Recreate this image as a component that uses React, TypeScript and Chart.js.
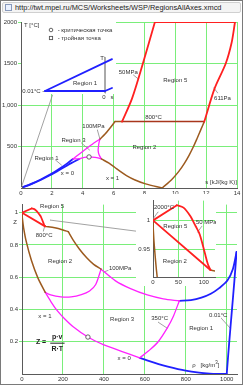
import React, { useEffect, useRef } from 'react';
import { Chart, registerables } from 'chart.js';
Chart.register(...registerables);

type P = [number, number];
type Lbl = { t: string; x: number; y: number; a?: CanvasTextAlign; f?: string; c?: string };

const FONT = '"Liberation Sans", Arial, sans-serif';
const BLUE = '#2020ff';
const RED = '#ff2020';
const MAG = '#ff22ff';
const BROWN = '#9c5a1e';
const R800 = '#a8361c';
const GRID = '#7aee7a';
const AXIS = '#5a5a5a';
const LEAD = '#8a8a8a';
const TXT = '#333333';

// ---------- T-s diagram ----------
const tsXTicks = [0, 2, 4, 6, 8, 10, 12, 14];
const tsXTickLabels = ['0', '2', '4', '6', '8', '10', '12', '14'];
const tsYTicks = [500, 1000, 1500, 2000];
const tsYTickLabels = ['500', '1,000', '1500', '2000'];

const tsSatLiquid: P[] = [[0, 0.01], [0.704, 50], [1.307, 100], [1.842, 150], [2.331, 200], [2.793, 250], [3.255, 300], [3.778, 350]];
const tsIsobar100L: P[] = [[-0.009, 0.01], [0.66, 50], [1.25, 100], [1.76, 150], [2.22, 200], [2.64, 250], [3.02, 300], [3.37, 350]];
const tsIsotherm350: P[] = [[3.37, 350], [3.778, 350]];
const tsDome: P[] = [[3.778, 350], [3.916, 360], [4.111, 370], [4.41, 373.95], [4.8, 370], [5.054, 360], [5.211, 350]];
const tsIsobar100R3: P[] = [[3.37, 350], [3.85, 420], [4.35, 490], [4.75, 545], [5.12, 590]];
const tsB23: P[] = [[5.211, 350], [5.06, 400], [5.0, 450], [5.02, 500], [5.06, 550], [5.12, 590]];
const tsSatVapor: P[] = [[5.211, 350], [5.704, 300], [6.073, 250], [6.431, 200], [6.837, 150], [7.354, 100], [8.075, 50], [9.155, 0.01]];
const ts611R2: P[] = [[9.155, 0.01], [9.76, 100], [10.23, 200], [10.6, 300], [10.91, 400], [11.18, 500], [11.42, 600], [11.65, 700], [11.88, 800]];
const tsIsobar100R2: P[] = [[5.12, 590], [5.45, 650], [5.8, 730], [6.09, 800]];
const ts800R2: P[] = [[6.09, 800], [6.55, 800]];
const ts800R5: P[] = [[6.55, 800], [11.88, 800]];
const ts50R5: P[] = [[6.55, 800], [7.2, 1080], [7.9, 1500], [8.68, 2000]];
const ts2000R5: P[] = [[8.68, 2000], [13.87, 2000]];
const ts611R5: P[] = [[11.88, 800], [12.55, 1200], [13.27, 1500], [13.65, 1750], [13.87, 2000]];
const tsCritical: P[] = [[4.41, 373.95]];
const tsTriple: P[] = [[0, 0.01]];
const tsLeaders: P[][] = [
  [[7.29, 1361], [7.61, 1313]],
  [[12.75, 1145], [12.5, 1205]],
  [[4.95, 700], [5.1, 600]],
  [[3.92, 542], [4.44, 458]],
  [[2.24, 337], [2.62, 277]],
  [[2.04, 1120], [0.03, 12]],
];
const tsLabels: Lbl[] = [
  { t: 'Region 5', x: 10.0, y: 1301 },
  { t: '50MPa', x: 6.95, y: 1398 },
  { t: '611Pa', x: 13.06, y: 1084 },
  { t: '800°C', x: 8.59, y: 855 },
  { t: '100MPa', x: 4.7, y: 747 },
  { t: 'Region 3', x: 3.4, y: 578 },
  { t: 'Region 2', x: 8.0, y: 494 },
  { t: 'Region 1', x: 1.65, y: 361 },
  { t: 'x = 0', x: 3.01, y: 181 },
  { t: 'x = 1', x: 5.93, y: 120 },
  { t: 's [kJ/(kg K)]', x: 14, y: 72, a: 'right' },
];

// ---------- T-s inset (near triple point) ----------
const inXRange: P = [-0.01245, 0.00165];
const inYRange: P = [-1.09, 7.51];
const inIsotherm: P[] = [[-0.009, 0.01], [0, 0.01]];
const inIsobar: P[] = [[-0.009, 0.01], [0.00105, 3.2]];
const inSat: P[] = [[0, 0.01], [0.00105, 0.31]];
const inAxis: P[] = [[0, -0.2], [0, 3.4]];
const inLabels: Lbl[] = [
  { t: 'T [°C]', x: -0.01215, y: 6.61, a: 'left' },
  { t: '- критическая точка', x: -0.0071, y: 6.11, a: 'left' },
  { t: '- тройная точка', x: -0.0071, y: 5.31, a: 'left' },
  { t: 'T', x: -0.00045, y: 3.31 },
  { t: '0', x: -0.00015, y: -0.59 },
  { t: 's', x: 0.00105, y: -0.59 },
  { t: '0.01°C -', x: -0.0091, y: 0.01, a: 'right' },
  { t: 'Region 1', x: -0.003, y: 0.81 },
];

// ---------- Z-rho diagram ----------
const zXTicks = [0, 200, 400, 600, 800, 1000];
const zXTickLabels = ['0', '200', '400', '600', '800', '1000'];
const zYTicks = [0.2, 0.4, 0.6, 0.8, 1.0];
const zYTickLabels = ['0.2', '0.4', '0.6', '0.8', '1'];

const zSatVapor: P[] = [[0, 1], [0.598, 0.984], [2.548, 0.957], [7.86, 0.906], [19.97, 0.825], [46.2, 0.703], [77.5, 0.596], [113.6, 0.506]];
const zDomeR3: P[] = [[113.6, 0.506], [144.9, 0.441], [171, 0.394], [203, 0.349], [250, 0.293], [322, 0.229], [400, 0.18], [450.5, 0.157], [528, 0.121], [574.7, 0.1]];
const zSatLiquid: P[] = [[574.7, 0.1], [610.7, 0.0844], [667, 0.0618], [712.1, 0.0456], [799.1, 0.0206], [864.7, 0.0082], [917, 0.0024], [958.4, 0.0005], [999.8, 0]];
const zIso001: P[] = [[999.8, 0], [1012, 0.196], [1024.6, 0.387], [1037, 0.574], [1048, 0.757]];
const zIsobar100R1: P[] = [[1048, 0.757], [1030, 0.651], [1003, 0.579], [963, 0.532], [922, 0.497], [876, 0.473], [825, 0.458], [768, 0.453]];
const zIso350: P[] = [[574.7, 0.1], [620, 0.145], [665, 0.2], [709, 0.284], [740, 0.36], [768, 0.453]];
const zIsobar100R3: P[] = [[768, 0.453], [690, 0.466], [612, 0.49], [530, 0.529], [455, 0.579], [386, 0.65]];
const zB23: P[] = [[113.6, 0.506], [140, 0.49], [190, 0.478], [240, 0.478], [290, 0.492], [330, 0.515], [360, 0.555], [386, 0.65]];
const zIsobar100R2: P[] = [[386, 0.65], [350, 0.68], [316, 0.72], [280, 0.775], [250, 0.83], [226, 0.882]];
const z800R2: P[] = [[226, 0.882], [200, 0.893], [160, 0.906], [113, 0.915]];
const z800R5: P[] = [[113, 0.915], [0, 1.0]];
const z2000R5: P[] = [[0, 1.0], [47, 1.026]];
const z50R5: P[] = [[47, 1.026], [60, 1.022], [73, 1.008], [84, 0.99], [92, 0.976], [102, 0.944], [108, 0.925], [113, 0.915]];
const zCritical: P[] = [[322, 0.229]];
const zLeaders: P[][] = [
  [[137, 0.954], [590, 0.88]],
  [[104, 0.885], [110, 0.912]],
  [[420, 0.642], [401, 0.633]],
  [[665, 0.321], [709, 0.284]],
  [[973, 0.346], [1017, 0.284]],
];
const zLabels: Lbl[] = [
  { t: 'Region 5', x: 147, y: 1.037 },
  { t: '800°C', x: 108, y: 0.862 },
  { t: 'Z', x: -34, y: 0.94 },
  { t: 'Region 2', x: 186, y: 0.698 },
  { t: '100MPa', x: 479, y: 0.654 },
  { t: 'x = 1', x: 112, y: 0.358 },
  { t: 'Region 3', x: 489, y: 0.34 },
  { t: '350°C', x: 672, y: 0.345 },
  { t: 'Region 1', x: 875, y: 0.284 },
  { t: '0.01°C', x: 958, y: 0.364 },
  { t: 'x = 0', x: 499, y: 0.099 },
];

// ---------- Z-rho inset ----------
const ziXTicks = [0, 50, 100];
const ziXTickLabels = ['0', '50', '100'];
const ziYTicks = [0.95, 1.0];
const ziYTickLabels = ['0.95', '1'];
const ziLeaders: P[][] = [
  [[9.8, 1.0145], [0.5, 1.003]],
  [[96, 0.99], [88, 0.98]],
];
const ziLabels: Lbl[] = [
  { t: '2000°C', x: 21.6, y: 1.0226 },
  { t: 'Region 5', x: 44, y: 0.99 },
  { t: '50 MPa', x: 105, y: 0.996 },
  { t: 'Region 2', x: 43, y: 0.929 },
];

const mk = (pts: P[]) => pts.map(([x, y]) => ({ x, y }));
function line(pts: P[], color: string, w: number, tension = 0.3): any {
  return {
    data: mk(pts), showLine: true, borderColor: color, backgroundColor: color, borderWidth: w,
    pointRadius: 0, pointHoverRadius: 0, tension, fill: false, borderCapStyle: 'round', borderJoinStyle: 'round',
  };
}
function marker(pts: P[], style: string, r: number): any {
  return {
    data: mk(pts), showLine: false, pointStyle: style, pointRadius: r, pointHoverRadius: r,
    borderColor: '#555', backgroundColor: '#ffffff', borderWidth: 0.9,
  };
}
function axis(min: number, max: number, ticks: number[], labels: string[], horizontal: boolean, size: number, pad: number, drawTicks: boolean, display = true): any {
  return {
    type: 'linear', min, max, display,
    afterBuildTicks: (s: any) => { s.ticks = ticks.map((v) => ({ value: v })); },
    afterFit: (s: any) => { if (horizontal) s.height = size; else s.width = size; },
    grid: { color: GRID, lineWidth: 1, drawTicks, tickLength: 3, tickColor: GRID },
    border: { display: true, color: AXIS, width: 1 },
    ticks: {
      font: { size: 6, family: FONT }, color: TXT, padding: pad, autoSkip: false, maxRotation: 0,
      callback: (_v: any, i: number) => labels[i] ?? '',
    },
  };
}
function textPlugin(id: string, labels: Lbl[], bgHeight: number, extra?: (ctx: CanvasRenderingContext2D, px: (v: number) => number, py: (v: number) => number) => void): any {
  return {
    id,
    beforeDraw(chart: any) {
      if (bgHeight > 0) {
        const ctx = chart.ctx;
        ctx.save();
        ctx.fillStyle = '#ffffff';
        ctx.fillRect(0, 0, chart.width, bgHeight);
        ctx.restore();
      }
    },
    afterDatasetsDraw(chart: any) {
      const ctx: CanvasRenderingContext2D = chart.ctx;
      const xs = chart.scales.x, ys = chart.scales.y;
      const px = (v: number) => xs.getPixelForValue(v);
      const py = (v: number) => ys.getPixelForValue(v);
      ctx.save();
      for (const l of labels) {
        ctx.font = l.f || `6px ${FONT}`;
        ctx.fillStyle = l.c || TXT;
        ctx.textAlign = l.a || 'center';
        ctx.textBaseline = 'middle';
        ctx.fillText(l.t, px(l.x), py(l.y));
      }
      if (extra) extra(ctx, px, py);
      ctx.restore();
    },
  };
}
const baseOpts = (padding: any, scales: any) => ({
  responsive: false, animation: false as const, devicePixelRatio: 1,
  layout: { padding },
  plugins: { legend: { display: false }, tooltip: { enabled: false } },
  events: [] as any[],
  scales,
});

export default function App() {
  const rA = useRef<HTMLCanvasElement>(null);
  const rB = useRef<HTMLCanvasElement>(null);
  const rC = useRef<HTMLCanvasElement>(null);
  const rD = useRef<HTMLCanvasElement>(null);

  useEffect(() => {
    const charts: Chart[] = [];
    // Top T-s chart
    charts.push(new Chart(rA.current!, {
      type: 'scatter',
      data: {
        datasets: [
          marker(tsCritical, 'circle', 2.2),
          marker(tsTriple, 'rect', 2),
          line(ts2000R5, RED, 1.8, 0),
          line(ts50R5, RED, 1.8),
          line(ts611R5, RED, 1.8),
          line(ts800R5, R800, 1.5, 0),
          line(ts800R2, BROWN, 1.5, 0),
          line(tsIsobar100R2, BROWN, 1.5),
          line(ts611R2, BROWN, 1.5),
          line(tsSatVapor, BROWN, 1.5),
          line(tsIsotherm350, MAG, 1.3, 0),
          line(tsDome, MAG, 1.3),
          line(tsIsobar100R3, MAG, 1.3, 0.2),
          line(tsB23, MAG, 1.3),
          line(tsSatLiquid, BLUE, 1.8),
          line(tsIsobar100L, BLUE, 1.8),
          ...tsLeaders.map((l) => line(l, LEAD, 0.8, 0)),
        ],
      },
      options: baseOpts({ left: 0, right: 6, top: 8, bottom: 0 }, {
        x: axis(0, 14, tsXTicks, tsXTickLabels, true, 12, 2, false),
        y: axis(0, 2000, tsYTicks, tsYTickLabels, false, 21, 1, true),
      }) as any,
      plugins: [textPlugin('tsText', tsLabels, 0)],
    }));

    // Bottom Z-rho chart
    charts.push(new Chart(rB.current!, {
      type: 'scatter',
      data: {
        datasets: [
          marker(zCritical, 'circle', 2.2),
          line(z2000R5, RED, 1.8, 0),
          line(z50R5, RED, 1.8),
          line(z800R5, RED, 1.8, 0),
          line(z800R2, BROWN, 1.5),
          line(zIsobar100R2, BROWN, 1.5),
          line(zSatVapor, BROWN, 1.5),
          line(zDomeR3, MAG, 1.3),
          line(zIso350, MAG, 1.3),
          line(zIsobar100R3, MAG, 1.3),
          line(zB23, MAG, 1.3),
          line(zSatLiquid, BLUE, 1.8),
          line(zIso001, BLUE, 1.8),
          line(zIsobar100R1, BLUE, 1.8),
          ...zLeaders.map((l) => line(l, LEAD, 0.8, 0)),
        ],
      },
      options: baseOpts({ left: 0, right: 6, top: 4, bottom: 0 }, {
        x: axis(0, 1050, zXTicks, zXTickLabels, true, 11, 1.5, false),
        y: axis(0, 1.05, zYTicks, zYTickLabels, false, 22, 1, true),
      }) as any,
      plugins: [textPlugin('zText', zLabels, 0, (ctx, px, py) => {
        // formula Z = p·v / R·T
        ctx.font = `bold 7px ${FONT}`;
        ctx.fillStyle = '#222';
        ctx.textAlign = 'center';
        ctx.fillText('Z =', px(93), py(0.198));
        ctx.fillText('p·v', px(172), py(0.229));
        ctx.fillText('R·T', px(172), py(0.153));
        ctx.strokeStyle = '#222';
        ctx.lineWidth = 1;
        ctx.beginPath();
        ctx.moveTo(px(138), py(0.191));
        ctx.lineTo(px(208), py(0.191));
        ctx.stroke();
        // rho label with superscript
        ctx.font = `6px ${FONT}`;
        ctx.fillStyle = TXT;
        ctx.textAlign = 'left';
        let x = px(831);
        const y = py(0.056);
        const s1 = 'ρ   [kg/m';
        ctx.fillText(s1, x, y);
        x += ctx.measureText(s1).width;
        ctx.font = `4.5px ${FONT}`;
        ctx.fillText('3', x, y - 2);
        x += ctx.measureText('3').width;
        ctx.font = `6px ${FONT}`;
        ctx.fillText(']', x, y);
      })],
    }));

    // Top inset
    charts.push(new Chart(rC.current!, {
      type: 'scatter',
      data: {
        datasets: [
          line(inIsotherm, BLUE, 1.8, 0),
          line(inIsobar, BLUE, 1.8, 0),
          line(inSat, BLUE, 1.8, 0),
          line(inAxis, '#555', 1, 0),
        ],
      },
      options: baseOpts(0, {
        x: { type: 'linear', min: inXRange[0], max: inXRange[1], display: false },
        y: { type: 'linear', min: inYRange[0], max: inYRange[1], display: false },
      }) as any,
      plugins: [textPlugin('inText', inLabels, 78, (ctx, px, py) => {
        ctx.strokeStyle = '#555';
        ctx.lineWidth = 0.9;
        ctx.beginPath();
        ctx.arc(px(-0.0081), py(6.11), 1.8, 0, Math.PI * 2);
        ctx.stroke();
        ctx.strokeRect(px(-0.0081) - 1.6, py(5.31) - 1.6, 3.2, 3.2);
      })],
    }));

    // Bottom inset
    charts.push(new Chart(rD.current!, {
      type: 'scatter',
      data: {
        datasets: [
          line(z2000R5, RED, 1.8, 0),
          line(z50R5, RED, 1.8),
          line(z800R5, RED, 1.8, 0),
          line(z800R2, BROWN, 1.5),
          line(zSatVapor, BROWN, 1.5),
          ...ziLeaders.map((l) => line(l, LEAD, 0.8, 0)),
        ],
      },
      options: baseOpts({ left: 0, right: 1, top: 2, bottom: 0 }, {
        x: axis(0, 122, ziXTicks, ziXTickLabels, true, 9, 1.5, false),
        y: axis(0.903, 1.034, ziYTicks, ziYTickLabels, false, 17, 3, false),
      }) as any,
      plugins: [textPlugin('ziText', ziLabels, 92)],
    }));

    return () => charts.forEach((c) => c.destroy());
  }, []);

  const abs = (left: number, top: number): React.CSSProperties => ({ position: 'absolute', left, top });
  return (
    <div style={{ position: 'fixed', left: 0, top: 0, width: 243, height: 385, background: '#fff', border: '1px solid #7a7a7a', boxSizing: 'border-box', overflow: 'hidden' }}>
      <div style={{ position: 'absolute', left: 1, top: 1, width: 239, height: 11, background: '#f4f4f4', border: '1px solid #d0d0d0', borderRadius: 2, boxSizing: 'border-box' }}>
        <div style={{ position: 'absolute', left: 2, top: 1, width: 7, height: 7, border: '1px solid #8899bb', background: '#eaf1ff', boxSizing: 'border-box' }} />
        <div style={{ position: 'absolute', left: 12, top: 0, fontFamily: FONT, fontSize: 7.4, lineHeight: '9px', color: '#222', whiteSpace: 'nowrap' }}>
          http://twt.mpei.ru/MCS/Worksheets/WSP/RegionsAllAxes.xmcd
        </div>
      </div>
      <canvas ref={rA} width={243} height={186} style={abs(-1, 13)} />
      <canvas ref={rB} width={243} height={185} style={abs(-1, 199)} />
      <canvas ref={rC} width={94} height={86} style={abs(21, 15)} />
      <canvas ref={rD} width={80} height={92} style={abs(135, 193)} />
    </div>
  );
}
